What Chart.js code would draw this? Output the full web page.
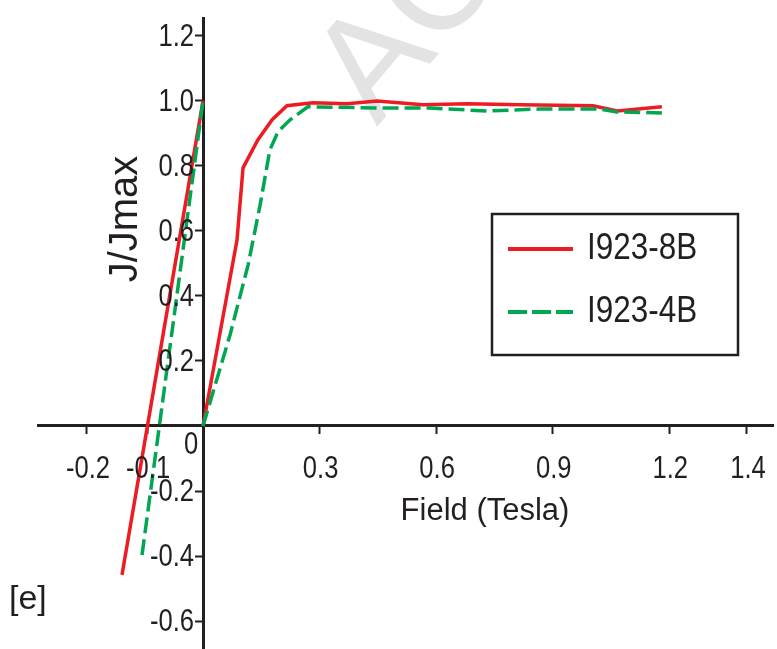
<!DOCTYPE html>
<html>
<head>
<meta charset="utf-8">
<script src="https://cdn.jsdelivr.net/npm/chart.js@4.4.0/dist/chart.umd.min.js"></script>
<style>
  html, body { margin: 0; padding: 0; background: #fff; }
  #wrap { position: relative; width: 777px; height: 649px; }
</style>
</head>
<body>
<div id="wrap"><canvas id="Chart1"></canvas></div>
<script>
// I923-8B (red, solid) - rise from origin, then plateau
const field8B = [0, 0.0875, 0.103, 0.141, 0.178, 0.216, 0.283, 0.371, 0.448, 0.566, 0.680, 0.816, 1.004, 1.066, 1.181];
const ratio8B = [0, 0.572, 0.794, 0.880, 0.942, 0.985, 0.994, 0.991, 1.000, 0.988, 0.991, 0.988, 0.985, 0.969, 0.982];
// leg going back from (0, 1.0) into the negative side
const negField8B = [-0.2085, 0];
const negRatio8B = [-0.458, 1.0];

// I923-4B (green, dashed)
const field4B = [0, 0.0695, 0.116, 0.147, 0.172, 0.193, 0.224, 0.270, 0.456, 0.584, 0.731, 0.867, 1.022, 1.066, 1.181];
const ratio4B = [0, 0.280, 0.495, 0.680, 0.849, 0.905, 0.942, 0.982, 0.978, 0.978, 0.969, 0.975, 0.975, 0.966, 0.963];
const negField4B = [-0.157, 0];
const negRatio4B = [-0.397, 1.0];

const seriesNames = ['I923-8B', 'I923-4B'];

// tick positions as drawn on the figure (negative side is not to scale)
const xTickPos = [-0.2986, -0.144, 0.3, 0.6, 0.9, 1.2, 1.4];
const xTickLabels = ['-0.2', '-0.1', '0.3', '0.6', '0.9', '1.2', '1.4'];
const yTickPos = [1.2, 1.0, 0.8, 0.6, 0.4, 0.2, -0.2, -0.4, -0.6];
const yTickLabels = ['1.2', '1.0', '0.8', '0.6', '0.4', '0.2', '-0.2', '-0.4', '-0.6'];
const originLabel = '0';
const xTitle = 'Field (Tesla)';
const yTitle = 'J/Jmax';
const panelTag = '[e]';
const watermarkText = 'ACCEPTED MANUSCRIPT';

const RED = '#ED1C24';
const GREEN = '#00A651';
const INK = '#231F20';
const SANS = '"Liberation Sans", Arial, sans-serif';

function buildSeries(negX, negY, posX, posY) {
    const pts = negX.map((x, i) => ({x: x, y: negY[i]}));
    pts.push({x: 0, y: null});
    return pts.concat(posX.map((x, i) => ({x: x, y: posY[i]})));
}

// keep tick labels from eating into the plot area
function noScalePadding(scale) {
    scale.paddingLeft = 0;
    scale.paddingRight = 0;
    scale.paddingTop = 0;
    scale.paddingBottom = 0;
}

// the figure uses a tall, condensed face for numbers and legend
function narrowText(ctx, text, x, y, size, align, squeeze) {
    ctx.save();
    ctx.translate(x, y);
    ctx.scale(squeeze, 1);
    ctx.font = size + 'px ' + SANS;
    ctx.textAlign = align;
    ctx.textBaseline = 'middle';
    ctx.fillText(text, 0, 0);
    ctx.restore();
}

const decor = {
    id: 'decor',
    beforeDraw(chart) {
        const ctx = chart.ctx;
        ctx.save();
        ctx.translate(377, 127);
        ctx.rotate(-50 * Math.PI / 180);
        ctx.fillStyle = '#e3e3e3';
        ctx.font = '145px ' + SANS;
        ctx.textBaseline = 'alphabetic';
        ctx.fillText(watermarkText, 0, 0);
        ctx.restore();
    },
    afterDraw(chart) {
        const ctx = chart.ctx;
        const xs = chart.scales.x, ys = chart.scales.y;
        const x0 = xs.getPixelForValue(0), y0 = ys.getPixelForValue(0);
        ctx.save();
        ctx.fillStyle = INK;

        // tick labels for the axes crossing at the origin
        ys.ticks.forEach((t, i) => {
            narrowText(ctx, yTickLabels[i], x0 - 9, ys.getPixelForValue(t.value) + 1, 32, 'right', 0.8);
        });
        xs.ticks.forEach((t, i) => {
            narrowText(ctx, xTickLabels[i], xs.getPixelForValue(t.value) + 1, y0 + 43, 32, 'center', 0.8);
        });
        narrowText(ctx, originLabel, x0 - 12, y0 + 19, 32, 'center', 0.8);

        // axis titles
        ctx.textAlign = 'center';
        ctx.font = '31px ' + SANS;
        ctx.textBaseline = 'alphabetic';
        ctx.fillText(xTitle, 485, 520);
        ctx.save();
        ctx.translate(137, 219);
        ctx.rotate(-Math.PI / 2);
        ctx.font = '40px ' + SANS;
        ctx.fillText(yTitle, 0, 0);
        ctx.restore();

        // panel tag
        ctx.font = '34px ' + SANS;
        ctx.textAlign = 'left';
        ctx.fillText(panelTag, 9, 609);

        // legend box
        ctx.strokeStyle = INK;
        ctx.lineWidth = 2.5;
        ctx.strokeRect(492, 214, 246, 141);
        const rows = [249, 312];
        chart.data.datasets.forEach((ds, i) => {
            ctx.beginPath();
            ctx.strokeStyle = ds.borderColor;
            ctx.lineWidth = 4;
            ctx.setLineDash(i === 0 ? [] : [19, 5]);
            ctx.moveTo(508, rows[i]);
            ctx.lineTo(573, rows[i]);
            ctx.stroke();
            ctx.setLineDash([]);
            ctx.fillStyle = INK;
            narrowText(ctx, ds.label, 587, rows[i], 37, 'left', 0.85);
        });
        ctx.restore();
    }
};

const ctx1 = document.getElementById('Chart1');
const myChart1 = new Chart(ctx1, {
    type: 'line',
    data: {
        datasets: [{
            label: seriesNames[0],
            data: buildSeries(negField8B, negRatio8B, field8B, ratio8B),
            borderColor: RED,
            borderWidth: 3.5,
            pointRadius: 0,
            tension: 0,
            fill: false,
            order: 1
        },
        {
            label: seriesNames[1],
            data: buildSeries(negField4B, negRatio4B, field4B, ratio4B),
            borderColor: GREEN,
            borderWidth: 3.5,
            borderDash: [16, 6],
            pointRadius: 0,
            tension: 0,
            fill: false,
            order: 0
        }]
    },
    options: {
        responsive: true,
        maintainAspectRatio: false,
        animation: false,
        spanGaps: false,
        layout: {
            padding: {left: 38, right: 4, top: 18, bottom: 0}
        },
        scales: {
            x: {
                type: 'linear',
                position: {y: 0},
                min: -0.4247,
                max: 1.467,
                afterBuildTicks: (scale) => {
                    scale.ticks = xTickPos.map(v => ({value: v}));
                },
                afterFit: noScalePadding,
                ticks: {
                    display: false,
                    autoSkip: false
                },
                grid: {
                    drawOnChartArea: false,
                    drawTicks: true,
                    tickLength: 7,
                    tickWidth: 2,
                    tickColor: INK
                },
                border: {color: INK, width: 3}
            },
            y: {
                type: 'linear',
                position: {x: 0},
                min: -0.686,
                max: 1.255,
                afterBuildTicks: (scale) => {
                    scale.ticks = yTickPos.map(v => ({value: v}));
                },
                afterFit: noScalePadding,
                ticks: {
                    display: false,
                    autoSkip: false
                },
                grid: {
                    drawOnChartArea: false,
                    drawTicks: true,
                    tickLength: 7,
                    tickWidth: 2,
                    tickColor: INK
                },
                border: {color: INK, width: 3}
            }
        },
        plugins: {
            legend: {display: false},
            tooltip: {enabled: false}
        }
    },
    plugins: [decor]
});
</script>
</body>
</html>
